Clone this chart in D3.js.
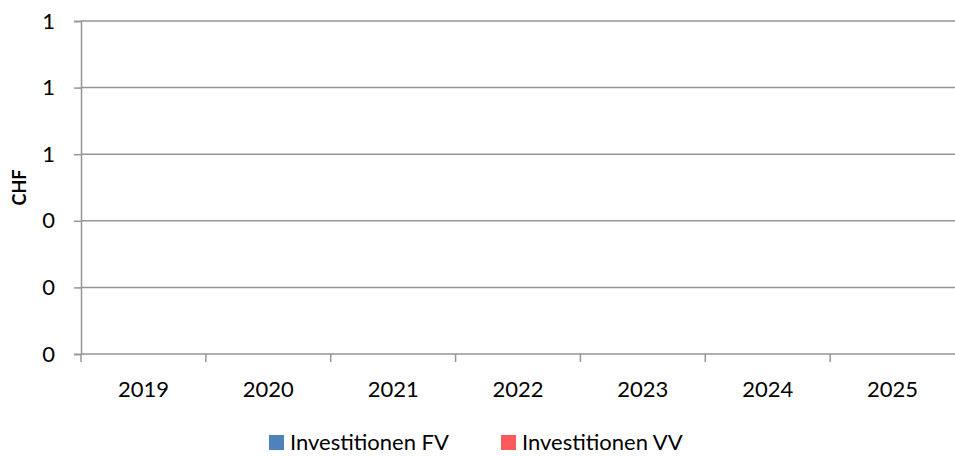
<!DOCTYPE html>
<html>
<head>
<meta charset="utf-8">
<script src="https://cdn.jsdelivr.net/npm/d3@7"></script>
<style>
  body { margin: 0; background: #fff; }
  text { font-family: Lato, "Open Sans", sans-serif; }
</style>
</head>
<body>
<script>
const years = ['2019', '2020', '2021', '2022', '2023', '2024', '2025'];
const investFV = [0, 0, 0, 0, 0, 0, 0];
const investVV = [0, 0, 0, 0, 0, 0, 0];
const yTicks = [0, 0.2, 0.4, 0.6, 0.8, 1];
const seriesNames = ['Investitionen FV', 'Investitionen VV'];
const colors = ['#4f81bd', '#fc5a5a'];

const margin = {top: 21, bottom: 102, left: 81, right: 0};
const width = 955 - margin.left - margin.right;
const height = 456 - margin.top - margin.bottom;

const svg = d3.select('body').append('svg')
  .attr('width', 955)
  .attr('height', 456);

const g = svg.append('g')
  .attr('transform', `translate(${margin.left},${margin.top})`);

const x = d3.scaleBand().domain(years).range([0, width]);
const xSub = d3.scaleBand().domain(seriesNames).range([0, x.bandwidth()]).padding(0.1);
const y = d3.scaleLinear().domain([0, 1]).range([height, 0]);

// gridlines
g.selectAll('.grid').data(yTicks).join('line')
  .attr('x1', 0).attr('x2', width)
  .attr('y1', d => y(d)).attr('y2', d => y(d))
  .attr('stroke', '#959595').attr('stroke-width', 1.5);

// y axis
const yAxis = g.append('g')
  .call(d3.axisLeft(y).tickValues(yTicks).tickFormat(d3.format('.0f')).tickSize(7).tickPadding(19));
yAxis.select('.domain').attr('stroke', '#959595').attr('stroke-width', 1.5);
yAxis.selectAll('.tick line').attr('stroke', '#959595').attr('stroke-width', 1.5);
yAxis.selectAll('text').attr('font-size', 22).attr('fill', '#000');

// x axis
const xAxis = g.append('g')
  .attr('transform', `translate(0,${height})`)
  .call(d3.axisBottom(x).tickSize(0).tickPadding(27));
xAxis.select('.domain').remove();
xAxis.selectAll('text').attr('font-size', 22).attr('fill', '#000');
g.selectAll('.xtick').data(years).join('line')
  .attr('x1', d => x(d)).attr('x2', d => x(d))
  .attr('y1', height).attr('y2', height + 8)
  .attr('stroke', '#959595').attr('stroke-width', 1.5);

// bars (all zero)
const series = [investFV, investVV];
series.forEach((vals, si) => {
  g.selectAll('.bar' + si).data(vals).join('rect')
    .attr('x', (d, i) => x(years[i]) + xSub(seriesNames[si]))
    .attr('width', xSub.bandwidth())
    .attr('y', d => y(d))
    .attr('height', d => height - y(d))
    .attr('fill', colors[si]);
});

// axis title
svg.append('text')
  .attr('transform', `translate(26,${margin.top + height / 2}) rotate(-90)`)
  .attr('text-anchor', 'middle')
  .attr('font-size', 18).attr('font-weight', 'bold')
  .text('CHF');

// legend
const legendX = [269, 501];
const legend = svg.selectAll('.legend').data(seriesNames).join('g')
  .attr('transform', (d, i) => `translate(${legendX[i]},435)`);
legend.append('rect').attr('width', 15).attr('height', 15).attr('fill', (d, i) => colors[i]);
legend.append('text').attr('x', 21).attr('y', 15).attr('font-size', 22).text(d => d);
</script>
</body>
</html>
